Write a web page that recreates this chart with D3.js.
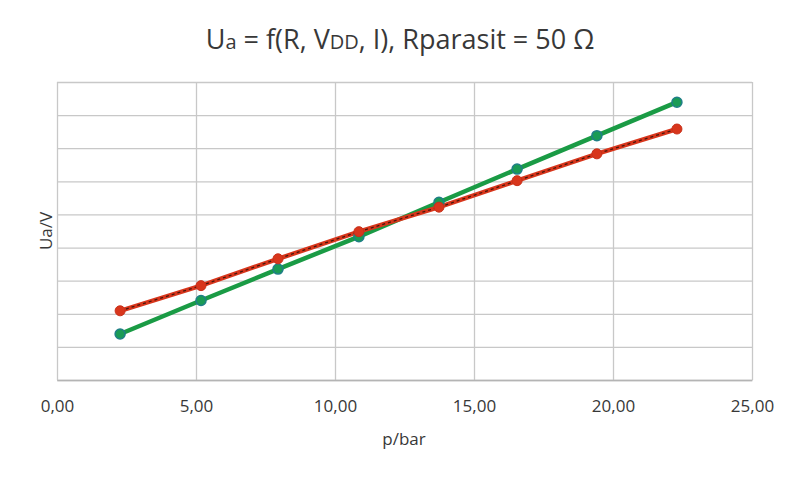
<!DOCTYPE html>
<html>
<head>
<meta charset="utf-8">
<script src="https://cdn.jsdelivr.net/npm/d3@7"></script>
<style>
  body { margin: 0; background: #fff; }
  text { font-family: "Open Sans", "Noto Sans", sans-serif; fill: #383838; }
</style>
</head>
<body>
<div id="viz"></div>
<script>
const width = 800
const height = 480
const margin = {top: 82, bottom: 100, right: 48, left: 57}
const innerWidth = width - margin.left - margin.right
const innerHeight = height - margin.top - margin.bottom

// data
const pressure = [2.27, 5.18, 7.95, 10.86, 13.74, 16.55, 19.42, 22.30]
const greenSeries = [1.39, 2.40, 3.35, 4.33, 5.37, 6.37, 7.38, 8.39]
const redSeries = [2.09, 2.85, 3.66, 4.48, 5.22, 6.02, 6.83, 7.58]
const xTicks = [0, 5, 10, 15, 20, 25]
const yTicks = [0, 1, 2, 3, 4, 5, 6, 7, 8, 9]

const svg = d3.select("#viz")
  .append("svg")
  .attr("width", width)
  .attr("height", height)

const g = svg.append("g")
  .attr("transform", "translate(" + margin.left + "," + margin.top + ")")

const xScale = d3.scaleLinear().domain([0, 25]).range([0, innerWidth])
const yScale = d3.scaleLinear().domain([0, 9]).range([innerHeight, 0])

// horizontal grid
const yGrid = g.append("g")
  .attr("class", "y-grid")
  .call(d3.axisLeft(yScale).tickValues(yTicks).tickSize(-innerWidth).tickFormat(""))
yGrid.select(".domain").remove()
yGrid.selectAll("text").remove()
yGrid.selectAll("line")
  .attr("stroke", "#c8c8c8")
  .attr("stroke-width", 1.3)

// vertical grid
const xGrid = g.append("g")
  .attr("class", "x-grid")
  .call(d3.axisBottom(xScale).tickValues(xTicks).tickSize(innerHeight).tickFormat(""))
xGrid.select(".domain").remove()
xGrid.selectAll("text").remove()
xGrid.selectAll("line")
  .attr("stroke", "#c8c8c8")
  .attr("stroke-width", 1.3)

// x axis with labels
const xAxisG = g.append("g")
  .attr("transform", "translate(0," + innerHeight + ")")
  .call(d3.axisBottom(xScale)
    .tickValues(xTicks)
    .tickSize(0)
    .tickPadding(20)
    .tickFormat(d => d3.format(".2f")(d).replace(".", ",")))
  .attr("font-family", null)
  .attr("font-size", null)
xAxisG.select(".domain").attr("stroke", "#b4b4b4").attr("stroke-width", 1.3)
xAxisG.selectAll("text")
  .attr("dy", null)
  .attr("y", 32)
  .attr("font-size", "17px")
  .attr("fill", "#383838")

// axis labels
svg.append("text")
  .attr("x", 404)
  .attr("y", 445)
  .attr("text-anchor", "middle")
  .attr("font-size", "17px")
  .text("p/bar")

svg.append("text")
  .attr("transform", "translate(52,231) rotate(-90)")
  .attr("text-anchor", "middle")
  .attr("font-size", "17px")
  .text("Ua/V")

// series
const line = d3.line()
  .x((d, i) => xScale(pressure[i]))
  .y(d => yScale(d))

g.append("path")
  .datum(greenSeries)
  .attr("fill", "none")
  .attr("stroke", "#1a9b45")
  .attr("stroke-width", 4.5)
  .attr("d", line)

g.append("path")
  .datum(redSeries)
  .attr("fill", "none")
  .attr("stroke", "#d8361c")
  .attr("stroke-width", 4.5)
  .attr("d", line)

g.append("path")
  .datum(redSeries)
  .attr("fill", "none")
  .attr("stroke", "#4a160c")
  .attr("stroke-width", 1.3)
  .attr("stroke-dasharray", "3,3")
  .attr("d", line)

g.selectAll(".green-dot")
  .data(greenSeries)
  .enter().append("circle")
  .attr("class", "green-dot")
  .attr("cx", (d, i) => xScale(pressure[i]))
  .attr("cy", d => yScale(d))
  .attr("r", 5)
  .attr("fill", "#1a9b55")
  .attr("stroke", "#1f7f86")
  .attr("stroke-width", 1.5)

g.selectAll(".red-dot")
  .data(redSeries)
  .enter().append("circle")
  .attr("class", "red-dot")
  .attr("cx", (d, i) => xScale(pressure[i]))
  .attr("cy", d => yScale(d))
  .attr("r", 5)
  .attr("fill", "#d8361c")
  .attr("stroke", "#c8301a")
  .attr("stroke-width", 1)

// chart title
const title = svg.append("text")
  .attr("x", width / 2)
  .attr("y", 49)
  .attr("text-anchor", "middle")
  .attr("font-size", "27px")
title.append("tspan").text("U")
title.append("tspan").attr("font-size", "20px").text("a")
title.append("tspan").text(" = f(R, V")
title.append("tspan").attr("font-size", "20px").text("DD")
title.append("tspan").text(", I), Rparasit = 50 Ω")
</script>
</body>
</html>
